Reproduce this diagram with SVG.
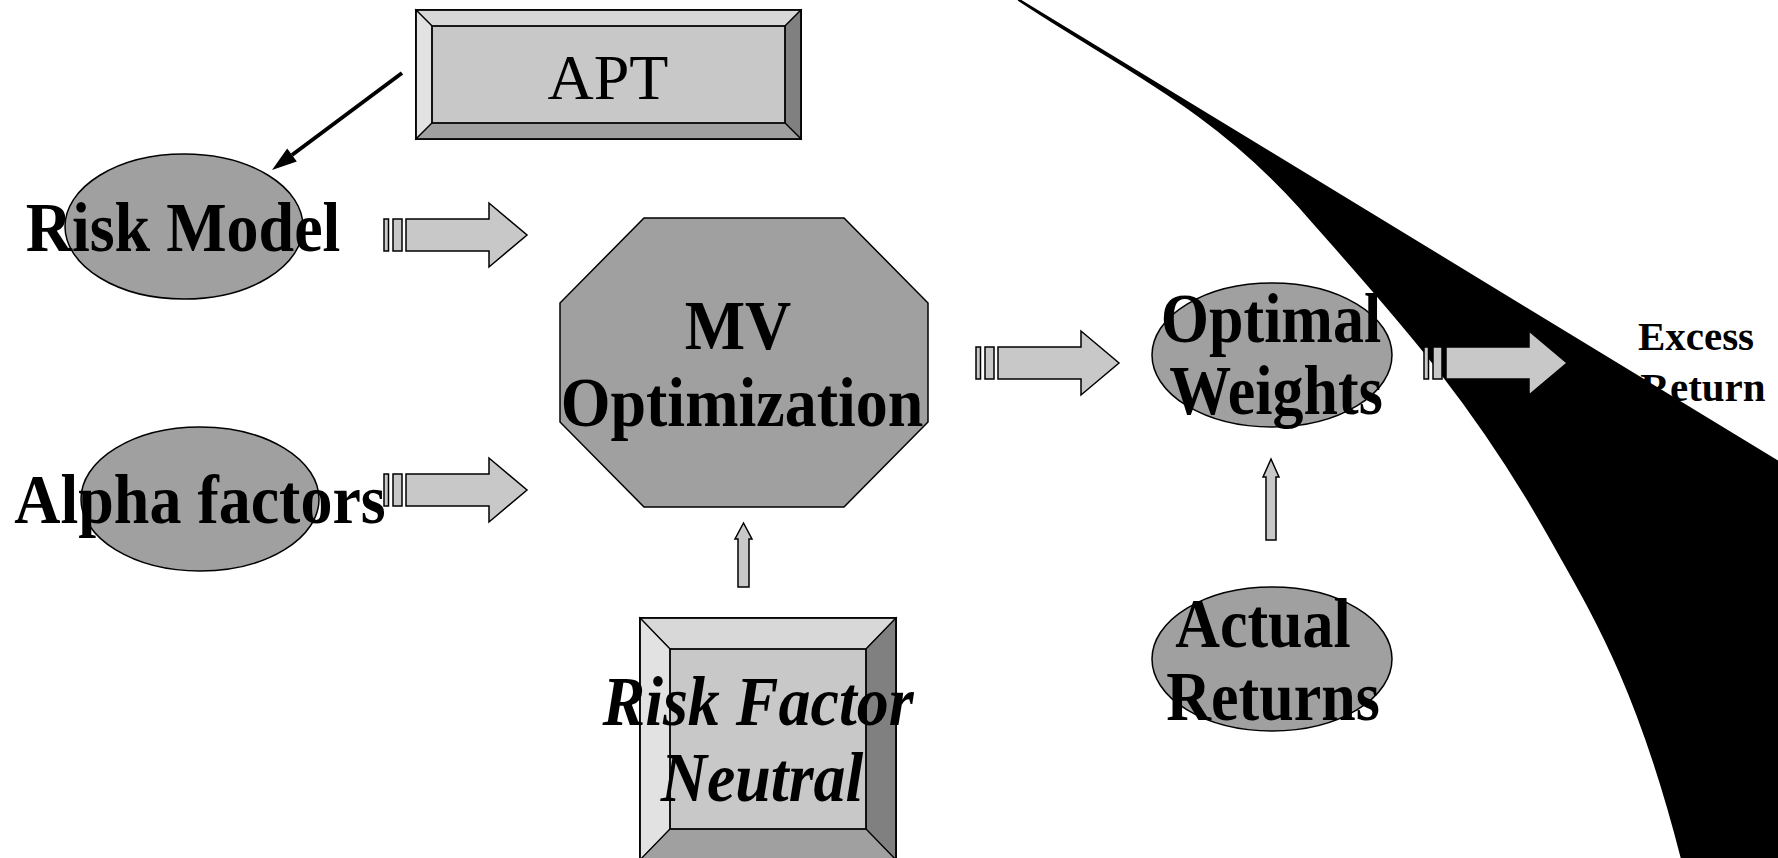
<svg xmlns="http://www.w3.org/2000/svg" width="1778" height="858" viewBox="0 0 1778 858">
<style>
.bg{fill:#ffffff}
.ell{fill:#a0a0a0;stroke:#000;stroke-width:1.5}
.face{fill:#c8c8c8;stroke:#000;stroke-width:1.5}
.bl{fill:#e2e2e2;stroke:#000;stroke-width:1.2}
.bt{fill:#d8d8d8;stroke:#000;stroke-width:1.2}
.br{fill:#808080;stroke:#000;stroke-width:1.2}
.bb{fill:#a0a0a0;stroke:#000;stroke-width:1.2}
.arr{fill:#c8c8c8;stroke:#000;stroke-width:1.5}
.lbl{font-family:"Liberation Serif","Times New Roman",serif;font-weight:bold;font-size:64px;text-anchor:middle;fill:#000}
.it{font-style:italic}
.norm{font-weight:normal}
.sm{font-size:41px}
.f62{font-size:62px}
</style>
<defs>
<g id="blockArrow">
<rect class="arr" x="0" y="-16" width="4.5" height="32"/>
<rect class="arr" x="9" y="-16" width="9" height="32"/>
<path class="arr" d="M22,-16 H105 V-32 L143,0 L105,32 V16 H22 Z"/>
</g>
</defs>
<rect class="bg" x="0" y="0" width="1778" height="858"/>

<g id="black-shape">
<path d="M1019,0 L1778,462 L1778,858 L1682,858 C1638,686 1594,615 1550,537 C1467,389 1383,302 1300,207 C1210,106 1113,63 1019,0 Z" fill="#000" stroke="#000" stroke-width="2.5" stroke-linejoin="round"/>
</g>

<g id="connectors">
<line x1="402" y1="73" x2="292" y2="155" stroke="#000" stroke-width="4"/>
<polygon points="272,170 296.8,161.4 287.2,148.6" fill="#000"/>
<use href="#blockArrow" transform="translate(384,235)"/>
<use href="#blockArrow" transform="translate(384,490)"/>
<use href="#blockArrow" transform="translate(976,363)"/>
<use href="#blockArrow" transform="translate(1424,363)"/>
<polygon class="arr" points="738,587 738,539 735,539 743.5,523 752,539 749,539 749,587"/>
<polygon class="arr" points="1266,540 1266,477 1263,477 1271,459 1279,477 1276,477 1276,540"/>
</g>

<g id="node-apt">
<rect class="face" x="416" y="10" width="385" height="129"/>
<polygon class="bt" points="416,10 801,10 785,26 432,26"/>
<polygon class="bl" points="416,10 432,26 432,123 416,139"/>
<polygon class="br" points="801,10 801,139 785,123 785,26"/>
<polygon class="bb" points="416,139 432,123 785,123 801,139"/>
<rect x="432" y="26" width="353" height="97" fill="none" stroke="#000" stroke-width="1.5"/>
<rect x="416" y="10" width="385" height="129" fill="none" stroke="#000" stroke-width="1.5"/>
<text class="lbl norm" x="608" y="99">APT</text>
</g>

<g id="node-risk-model">
<ellipse class="ell" cx="184" cy="226.5" rx="119" ry="72.5"/>
<text class="lbl" transform="translate(183,251) scale(1,1.1)">Risk Model</text>
</g>

<g id="node-alpha">
<ellipse class="ell" cx="200" cy="499" rx="119" ry="72"/>
<text class="lbl" transform="translate(200,522.5) scale(1,1.1)">Alpha factors</text>
</g>

<g id="node-mv">
<polygon class="ell" points="644,218 844,218 928,303 928,422 844,507 644,507 560,422 560,303"/>
<text class="lbl" transform="translate(738,349) scale(1,1.1)">MV</text>
<text class="lbl" transform="translate(742,426) scale(1,1.1)">Optimization</text>
</g>

<g id="node-rfn">
<rect class="face" x="640" y="618" width="256" height="242"/>
<polygon class="bt" points="640,618 896,618 866,649 670,649"/>
<polygon class="bl" points="640,618 670,649 670,829 640,860"/>
<polygon class="br" points="896,618 896,860 866,829 866,649"/>
<polygon class="bb" points="640,860 670,829 866,829 896,860"/>
<rect x="670" y="649" width="196" height="180" fill="none" stroke="#000" stroke-width="1.5"/>
<rect x="640" y="618" width="256" height="242" fill="none" stroke="#000" stroke-width="1.5"/>
<text class="lbl it" transform="translate(758,725) scale(1,1.1)">Risk Factor</text>
<text class="lbl it" transform="translate(762,801) scale(1,1.1)">Neutral</text>
</g>

<g id="node-optimal">
<ellipse class="ell" cx="1272" cy="355" rx="120" ry="72"/>
<text class="lbl f62" transform="translate(1271,342) scale(1,1.12)">Optimal</text>
<text class="lbl f62" transform="translate(1276,414) scale(1,1.12)">Weights</text>
</g>

<g id="node-actual">
<ellipse class="ell" cx="1272" cy="659" rx="120" ry="72"/>
<text class="lbl f62" transform="translate(1263,647) scale(1,1.12)">Actual</text>
<text class="lbl f62" transform="translate(1273,720) scale(1,1.12)">Returns</text>
</g>

<g id="node-excess">
<text class="lbl sm" x="1696" y="350">Excess</text>
<text class="lbl sm" x="1703" y="401">Return</text>
</g>
</svg>
